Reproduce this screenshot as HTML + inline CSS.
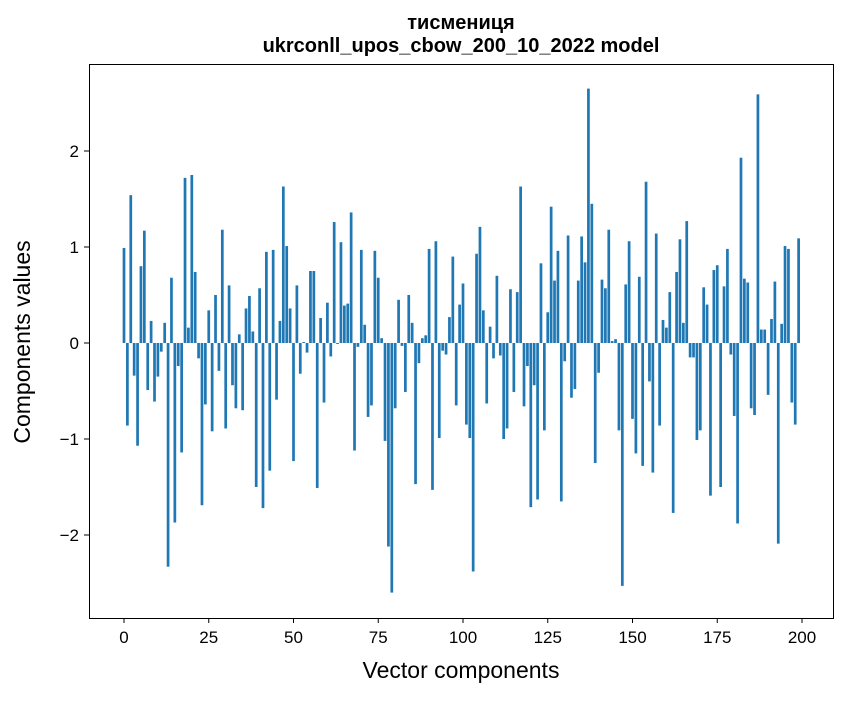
<!DOCTYPE html>
<html><head><meta charset="utf-8"><style>
body{margin:0;background:#fff;width:847px;height:696px;overflow:hidden;font-family:"Liberation Sans","DejaVu Sans",sans-serif}
</style></head><body>
<svg id="chart" width="847" height="696" xmlns="http://www.w3.org/2000/svg" font-family="Liberation Sans, DejaVu Sans, sans-serif">
<text x="461" y="29" text-anchor="middle" font-size="20" font-weight="bold">тисмениця</text>
<text x="461" y="52" text-anchor="middle" font-size="20" font-weight="bold">ukrconll_upos_cbow_200_10_2022 model</text>
<g id="bars"></g>
<g id="axes"></g>
<rect x="89.5" y="64.5" width="744" height="554" fill="none" stroke="#000" stroke-width="1"/>
<text x="461" y="678" text-anchor="middle" font-size="23">Vector components</text>
<text transform="translate(30,342) rotate(-90)" text-anchor="middle" font-size="23">Components values</text>
</svg>
<script>
const values = [0.99,-0.86,1.54,-0.34,-1.07,0.80,1.17,-0.49,0.23,-0.61,-0.35,-0.09,0.21,-2.33,0.68,-1.87,-0.24,-1.14,1.72,0.16,1.75,0.74,-0.16,-1.69,-0.64,0.34,-0.92,0.50,-0.29,1.18,
-0.89,0.60,-0.44,-0.68,0.09,-0.70,0.36,0.49,0.12,-1.50,0.57,-1.72,0.95,-1.33,0.97,-0.59,0.23,1.63,1.01,0.36,
-1.23,0.60,-0.32,0.01,-0.10,0.75,0.75,-1.51,0.26,-0.62,0.42,-0.14,1.26,-0.01,1.05,0.39,0.41,1.36,-1.12,-0.04,
0.97,0.19,-0.77,-0.65,0.96,0.68,0.05,-1.02,-2.12,-2.60,-0.68,0.45,-0.03,-0.51,0.50,0.21,-1.47,-0.21,0.05,0.08,
0.98,-1.53,1.06,-0.99,-0.08,-0.12,0.27,0.90,-0.65,0.40,0.62,-0.85,-0.99,-2.38,0.93,1.21,0.34,-0.63,0.17,-0.16,
0.70,-0.13,-1.00,-0.89,0.56,-0.51,0.53,1.63,-0.66,-0.24,-1.71,-0.44,-1.63,0.83,-0.91,0.32,1.42,0.65,0.96,-1.65,
-0.19,1.12,-0.57,-0.48,0.65,1.11,0.84,2.65,1.45,-1.25,-0.31,0.66,0.57,1.18,0.02,0.04,-0.91,-2.53,0.61,1.06,
-0.79,-1.15,0.69,-1.28,1.68,-0.40,-1.35,1.14,-0.86,0.24,0.16,0.53,-1.77,0.74,1.08,0.21,1.27,-0.15,-0.15,-1.01,
-0.91,0.58,0.40,-1.59,0.76,0.81,-1.50,0.59,0.98,-0.12,-0.76,-1.88,1.93,0.67,0.63,-0.68,-0.75,2.59,0.14,0.14,
-0.54,0.25,0.64,-2.09,0.20,1.01,0.98,-0.62,-0.85,1.09];
const xTicks = [0,25,50,75,100,125,150,175,200];
const yTicks = [-2,-1,0,1,2];
const NS="http://www.w3.org/2000/svg";
const X0=124, XS=3.39, Y0=343, YS=96;
const xs = v => X0 + v*XS;
const ys = v => Y0 - v*YS;
const bars=document.getElementById('bars');
values.forEach((v,i)=>{
  const r=document.createElementNS(NS,'rect');
  
  
  const x=xs(i-0.4), w=0.8*XS;
  const y=Math.min(ys(v),ys(0)), h=Math.abs(ys(v)-ys(0));
  r.setAttribute('x',x);r.setAttribute('y',y);r.setAttribute('width',w);r.setAttribute('height',h);
  r.setAttribute('fill','#1f77b4');
  bars.appendChild(r);
});
const axes=document.getElementById('axes');
xTicks.forEach(t=>{
  const l=document.createElementNS(NS,'line');
  
  
  l.setAttribute('x1',xs(t));l.setAttribute('x2',xs(t));l.setAttribute('y1',618);l.setAttribute('y2',623);l.setAttribute('stroke','#000');
  axes.appendChild(l);
  const tx=document.createElementNS(NS,'text');
  
  
  tx.setAttribute('x',xs(t));tx.setAttribute('y',643);tx.setAttribute('text-anchor','middle');tx.setAttribute('font-size','17');
  tx.textContent=t;
  axes.appendChild(tx);
});
yTicks.forEach(t=>{
  const l=document.createElementNS(NS,'line');
  
  
  l.setAttribute('x1',84);l.setAttribute('x2',89);l.setAttribute('y1',ys(t));l.setAttribute('y2',ys(t));l.setAttribute('stroke','#000');
  axes.appendChild(l);
  const tx=document.createElementNS(NS,'text');
  
  
  tx.setAttribute('x',79);tx.setAttribute('y',ys(t)+6);tx.setAttribute('text-anchor','end');tx.setAttribute('font-size','17');
  tx.textContent=(t<0?'\u2212'+(-t):String(t));
  axes.appendChild(tx);
});
</script>
</body></html>
